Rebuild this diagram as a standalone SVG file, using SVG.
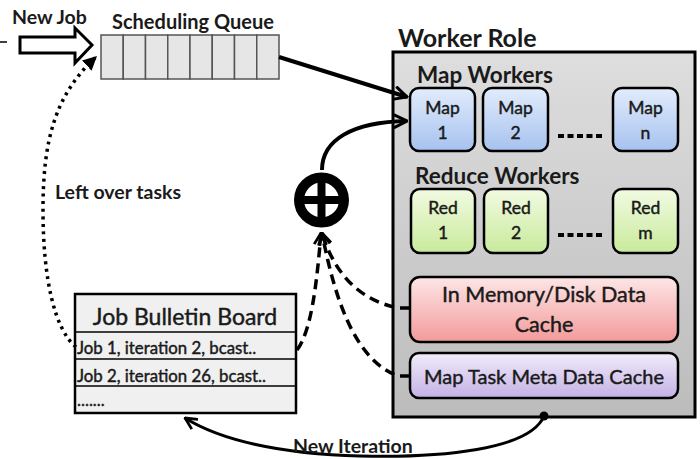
<svg xmlns="http://www.w3.org/2000/svg" width="700" height="459" viewBox="0 0 700 459">
<defs>
<linearGradient id="gWorker" x1="0" y1="0" x2="0" y2="1"><stop offset="0" stop-color="#dedede"/><stop offset="1" stop-color="#bcbcbc"/></linearGradient>
<linearGradient id="gMap" x1="0" y1="0" x2="0" y2="1"><stop offset="0" stop-color="#e2ecfc"/><stop offset="1" stop-color="#a6c2ef"/></linearGradient>
<linearGradient id="gRed" x1="0" y1="0" x2="0" y2="1"><stop offset="0" stop-color="#f2fbe2"/><stop offset="1" stop-color="#c8ea9c"/></linearGradient>
<linearGradient id="gMem" x1="0" y1="0" x2="0" y2="1"><stop offset="0" stop-color="#fde6e6"/><stop offset="1" stop-color="#f39a9a"/></linearGradient>
<linearGradient id="gMeta" x1="0" y1="0" x2="0" y2="1"><stop offset="0" stop-color="#f1ecfa"/><stop offset="1" stop-color="#c4b1e6"/></linearGradient>
<marker id="vhead" viewBox="0 0 12 12" refX="11" refY="6" markerWidth="16" markerHeight="16" markerUnits="userSpaceOnUse" orient="auto">
<path d="M1,1 L11,6 L1,11" fill="none" stroke="#000" stroke-width="2.2"/>
</marker>
<marker id="vheadS" viewBox="0 0 12 12" refX="11" refY="6" markerWidth="14" markerHeight="14" markerUnits="userSpaceOnUse" orient="auto">
<path d="M1,1 L11,6 L1,11" fill="none" stroke="#000" stroke-width="2.4"/>
</marker>
<marker id="tri" viewBox="0 0 10 10" refX="9" refY="5" markerWidth="14" markerHeight="14" markerUnits="userSpaceOnUse" orient="auto">
<path d="M0,0 L10,5 L0,10 Z" fill="#000"/>
</marker>
<style>
.t{font-family:Lato,"Open Sans","Liberation Sans",sans-serif;fill:#1a1a1a}
.b{font-weight:bold}
.m{stroke:#1a1a1a;stroke-width:0.45}
.c{text-anchor:middle}
.box{stroke:#000;stroke-width:2.5}
.cell{fill:#e6e6e6;stroke:#555;stroke-width:1.5}
.conn{fill:none;stroke:#000}
</style>
</defs>

<line x1="0" y1="42" x2="7" y2="42" stroke="#000" stroke-width="1.5"/>

<g id="newjob">
<text class="t b" x="12" y="24" font-size="19.5">New Job</text>
<path d="M20,37 L75,37 L75,28 L92,45 L75,63 L75,53 L20,53 Z" fill="#fff" stroke="#000" stroke-width="3" stroke-linejoin="miter"/>
</g>

<g id="queue">
<text class="t b" x="112" y="29" font-size="20">Scheduling Queue</text>
<rect class="cell" x="101" y="35" width="22.25" height="44"/>
<rect class="cell" x="123.25" y="35" width="22.25" height="44"/>
<rect class="cell" x="145.5" y="35" width="22.25" height="44"/>
<rect class="cell" x="167.75" y="35" width="22.25" height="44"/>
<rect class="cell" x="190" y="35" width="22.25" height="44"/>
<rect class="cell" x="212.25" y="35" width="22.25" height="44"/>
<rect class="cell" x="234.5" y="35" width="22.25" height="44"/>
<rect class="cell" x="256.75" y="35" width="22.25" height="44"/>
</g>

<g id="worker-role">
<text class="t b" x="398" y="47" font-size="25">Worker Role</text>
<rect x="393" y="52" width="302" height="365" fill="url(#gWorker)" stroke="#000" stroke-width="3"/>
<text class="t b" x="417" y="83" font-size="22.5">Map Workers</text>
<text class="t b" x="415" y="184" font-size="22.5">Reduce Workers</text>
</g>

<g id="map1"><rect class="box" x="410" y="88" width="65" height="63" rx="9" fill="url(#gMap)"/>
<text class="t m c" x="442.5" y="114" font-size="17.5">Map</text><text class="t m c" x="442.5" y="139" font-size="17.5">1</text></g>
<g id="map2"><rect class="box" x="483" y="88" width="65" height="63" rx="9" fill="url(#gMap)"/>
<text class="t m c" x="515.5" y="114" font-size="17.5">Map</text><text class="t m c" x="515.5" y="139" font-size="17.5">2</text></g>
<g id="mapn"><rect class="box" x="613" y="88" width="65" height="63" rx="9" fill="url(#gMap)"/>
<text class="t m c" x="645.5" y="114" font-size="17.5">Map</text><text class="t m c" x="645.5" y="139" font-size="17.5">n</text></g>
<line x1="558" y1="136" x2="605" y2="136" stroke="#000" stroke-width="4" stroke-dasharray="6,3.5"/>

<g id="red1"><rect class="box" x="411" y="189" width="64" height="64" rx="9" fill="url(#gRed)"/>
<text class="t m c" x="443" y="214" font-size="17.5">Red</text><text class="t m c" x="443" y="239" font-size="17.5">1</text></g>
<g id="red2"><rect class="box" x="484" y="189" width="64" height="64" rx="9" fill="url(#gRed)"/>
<text class="t m c" x="516" y="214" font-size="17.5">Red</text><text class="t m c" x="516" y="239" font-size="17.5">2</text></g>
<g id="redm"><rect class="box" x="613" y="189" width="65" height="64" rx="9" fill="url(#gRed)"/>
<text class="t m c" x="645.5" y="214" font-size="17.5">Red</text><text class="t m c" x="645.5" y="239" font-size="17.5">m</text></g>
<line x1="558" y1="235" x2="605" y2="235" stroke="#000" stroke-width="4" stroke-dasharray="6,3.5"/>

<g id="mem-cache"><rect class="box" x="410" y="277" width="268" height="65" rx="10" fill="url(#gMem)"/>
<text class="t m c" x="544" y="302" font-size="21.5">In Memory/Disk Data</text>
<text class="t m c" x="544" y="332" font-size="21.5">Cache</text></g>

<g id="meta-cache"><rect class="box" x="410" y="353" width="268" height="45" rx="9" fill="url(#gMeta)"/>
<text class="t m c" x="544" y="384" font-size="20">Map Task Meta Data Cache</text></g>

<g id="bulletin">
<rect x="75" y="294" width="221" height="119" fill="#f0f0f0" stroke="#000" stroke-width="2.5"/>
<line x1="75" y1="332" x2="296" y2="332" stroke="#000" stroke-width="1.5"/>
<line x1="75" y1="359" x2="296" y2="359" stroke="#000" stroke-width="1.5"/>
<line x1="75" y1="386" x2="296" y2="386" stroke="#000" stroke-width="1.5"/>
<text class="t m c" x="185" y="325" font-size="23">Job Bulletin Board</text>
<text class="t m" x="77" y="354" font-size="16.8">Job 1, iteration 2, bcast..</text>
<text class="t m" x="77" y="382" font-size="16.8">Job 2, iteration 26, bcast..</text>
<text class="t m" x="77" y="406" font-size="16.8">.......</text>
</g>

<g id="combiner">
<circle cx="321.5" cy="200" r="22.5" fill="#fff" stroke="#000" stroke-width="10"/>
<line x1="321.5" y1="178" x2="321.5" y2="222" stroke="#000" stroke-width="8"/>
<line x1="299.5" y1="200" x2="343.5" y2="200" stroke="#000" stroke-width="8"/>
</g>

<g id="connectors">
<path class="conn" d="M279,57 L407,97" stroke-width="4" marker-end="url(#vhead)"/>
<path class="conn" d="M322,170 C322,140 352,122 407,121" stroke-width="4" marker-end="url(#vhead)"/>
<path class="conn" d="M76,347 C55,330 43,280 43,210 C43,140 55,95 96,57" stroke-width="3.5" stroke-dasharray="3,4.5" marker-end="url(#tri)"/>
<path class="conn" d="M297,350 C312,330 317,280 321,233" stroke-width="3.5" stroke-dasharray="10,6" marker-end="url(#vheadS)"/>
<path class="conn" d="M410,308 L398,308 C360,300 335,275 322,233" stroke-width="3.5" stroke-dasharray="10,6" marker-end="url(#vheadS)"/>
<path class="conn" d="M410,376 L398,376 C355,360 335,300 322,233" stroke-width="3.5" stroke-dasharray="10,6" marker-end="url(#vheadS)"/>
<circle cx="544" cy="416" r="4.5" fill="#000"/>
<path class="conn" d="M544,416 C530,450 440,458 360,456 C280,454 220,440 185,418" stroke-width="3" marker-end="url(#vheadS)"/>
</g>

<text class="t b" x="55" y="199" font-size="19.5">Left over tasks</text>
<text class="t b" x="293" y="453" font-size="19.5">New Iteration</text>
</svg>
